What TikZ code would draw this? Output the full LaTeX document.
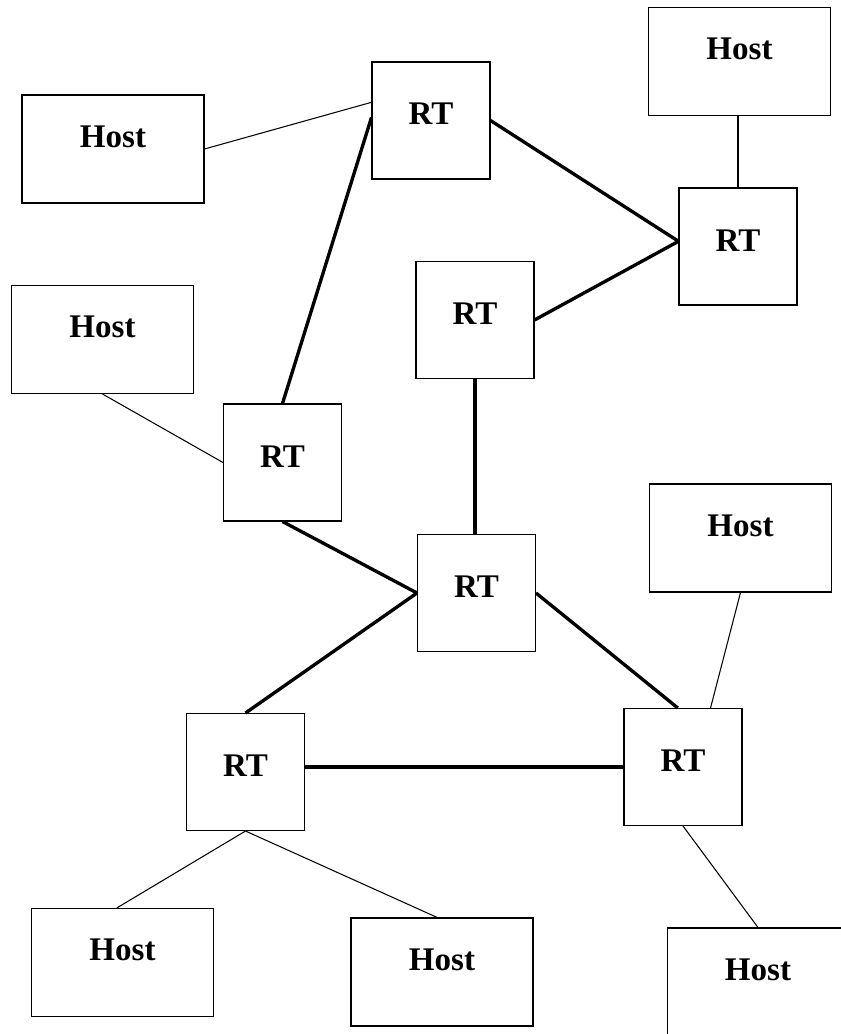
\documentclass[tikz,border=0pt]{standalone}
\usepackage{fontspec}
\setmainfont{Liberation Serif}
\usetikzlibrary{calc}

\begin{document}
\begin{tikzpicture}[x=0.02cm,y=-0.02cm,
  box/.style={draw,line width=0.6pt,inner sep=0pt,font=\fontsize{18.8}{22}\selectfont\bfseries},
  host/.style={box,minimum width=3.64cm,minimum height=2.16cm,text height=1.04cm,text depth=1.12cm},
  rt/.style={box,minimum width=2.36cm,minimum height=2.34cm,text height=1.26cm,text depth=1.08cm},
  lan/.style={line width=0.6pt},
  trunk/.style={line width=1.9pt}]
\clip (0,0) rectangle (841,1034);
\node[host] (hostA) at (113,149) {Host};
\node[rt] (rtA) at (431,120.5) {RT};
\node[host] (hostB) at (739.5,61.5) {Host};
\node[rt] (rtB) at (738,246.5) {RT};
\node[rt] (rtC) at (475,320) {RT};
\node[host] (hostC) at (102.5,339.5) {Host};
\node[rt] (rtD) at (282.5,462.5) {RT};
\node[rt] (rtE) at (476.5,593) {RT};
\node[host] (hostD) at (740.5,538) {Host};
\node[rt] (rtF) at (245.5,772) {RT};
\node[rt] (rtG) at (683,767) {RT};
\node[host] (hostE) at (122.5,962.5) {Host};
\node[host] (hostF) at (442,972) {Host};
\node[host] (hostG) at (758,982) {Host};
\draw[lan] (hostA.east) -- (rtA.163);
\draw[trunk] (rtA.177) -- (rtD.north);
\draw[trunk] (rtA.east) -- (rtB.175);
\draw[trunk] (rtC.east) -- (rtB.175);
\draw[lan] (rtB.north |- hostB.south) -- (rtB.north);
\draw[trunk] (rtC.south) -- (rtC.south |- rtE.north);
\draw[lan] (hostC.south) -- (rtD.west);
\draw[trunk] (rtD.south) -- (rtE.west);
\draw[trunk] (rtE.west) -- (rtF.north);
\draw[trunk] (rtE.east) -- (rtG.95);
\draw[lan] (hostD.south) -- (rtG.65);
\draw[trunk] (rtG.west -| rtF.east) -- (rtG.west);
\draw[lan] (rtF.south) -- (hostE.96);
\draw[lan] (rtF.south) -- (hostF.95);
\draw[lan] (rtG.south) -- (hostG.north);
\end{tikzpicture}
\end{document}
